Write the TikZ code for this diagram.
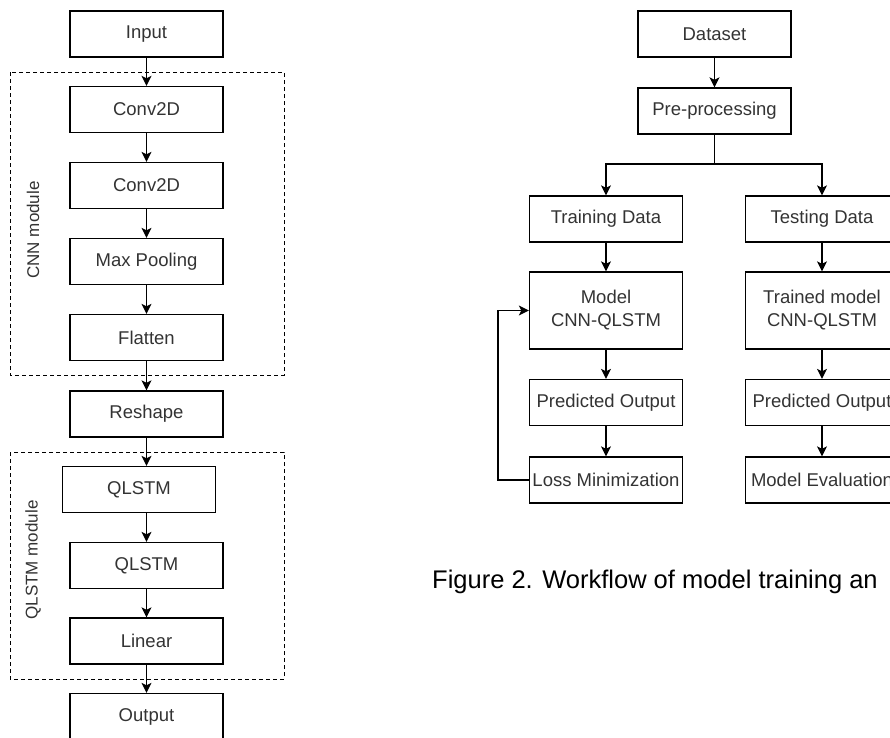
\documentclass[tikz,border=0pt]{standalone}
\usepackage{fontspec}
\setmainfont{Liberation Sans}
\usetikzlibrary{arrows.meta}
\definecolor{txt}{HTML}{333333}
\begin{document}
\begin{tikzpicture}[x=1pt,y=-1pt,
  box/.style={draw, line width=1.3pt, minimum width=153pt, minimum height=46pt, inner sep=0pt,
    text=txt, font=\fontsize{18.5}{23}\selectfont, align=center},
  tall/.style={box, minimum height=77pt},
  arr/.style={line width=1.3pt, -{Stealth[length=10pt,width=10pt,inset=2.5pt]}},
  ln/.style={line width=1.3pt},
  module/.style={draw, dashed, line width=1pt, dash pattern=on 4pt off 3pt},
  modlabel/.style={rotate=90, text=txt, font=\fontsize{17}{20}\selectfont}]
\useasboundingbox (0,0) rectangle (890,737);
\clip (0,0) rectangle (890,737);
% left: architecture
\draw[module] (10,72) rectangle (284,375);
\draw[module] (10,452) rectangle (284,679);
\node[modlabel] (cnnlab) at (33,230) {CNN module};
\node[modlabel] (qlab) at (33,560) {QLSTM module};
\node[box] (in) at (146.5,34) {Input};
\node[box] (c1) at (146.5,109.5) {Conv2D};
\node[box] (c2) at (146.5,185.5) {Conv2D};
\node[box] (mp) at (146.5,261.5) {Max Pooling};
\node[box] (fl) at (146.5,337.5) {Flatten};
\node[box] (rs) at (146.5,414) {Reshape};
\node[box] (q1) at (139,489.5) {QLSTM};
\node[box] (q2) at (146.5,565.5) {QLSTM};
\node[box] (li) at (146.5,641) {Linear};
\node[box] (out) at (146.5,716.5) {Output};
\draw[arr] (in) -- (c1);
\draw[arr] (c1) -- (c2);
\draw[arr] (c2) -- (mp);
\draw[arr] (mp) -- (fl);
\draw[arr] (fl) -- (rs);
\draw[arr] (rs.south) -- (rs.south |- q1.north);
\draw[arr] (q2.north |- q1.south) -- (q2.north);
\draw[arr] (q2) -- (li);
\draw[arr] (li) -- (out);
% right: workflow
\node[box] (ds) at (714.5,34) {Dataset};
\node[box] (pp) at (714.5,111) {Pre-processing};
\node[box] (tr) at (606,219) {Training Data};
\node[box] (te) at (822,219) {Testing Data};
\node[tall] (mo) at (606,310.5) {Model\\CNN-QLSTM};
\node[tall] (tm) at (822,310.5) {Trained model\\CNN-QLSTM};
\node[box] (po1) at (606,402.5) {Predicted Output};
\node[box] (po2) at (822,402.5) {Predicted Output};
\node[box] (lm) at (606,480) {Loss Minimization};
\node[box] (me) at (822,480) {Model Evaluation};
\coordinate (split) at (714.5,164);
\draw[arr] (ds) -- (pp);
\draw[ln] (pp.south) -- (split);
\draw[arr] (split) -| (tr.north);
\draw[arr] (split) -| (te.north);
\draw[arr] (tr) -- (mo);
\draw[arr] (te) -- (tm);
\draw[arr] (mo) -- (po1);
\draw[arr] (tm) -- (po2);
\draw[arr] (po1) -- (lm);
\draw[arr] (po2) -- (me);
\draw[arr] (lm.west) -- ++(-31,0) |- (mo.west);
\node[anchor=base west, font=\fontsize{25.5}{30}\selectfont, inner sep=0pt] (cap) at (432,588) {Figure 2. Workflow of model training an};
\end{tikzpicture}
\end{document}
